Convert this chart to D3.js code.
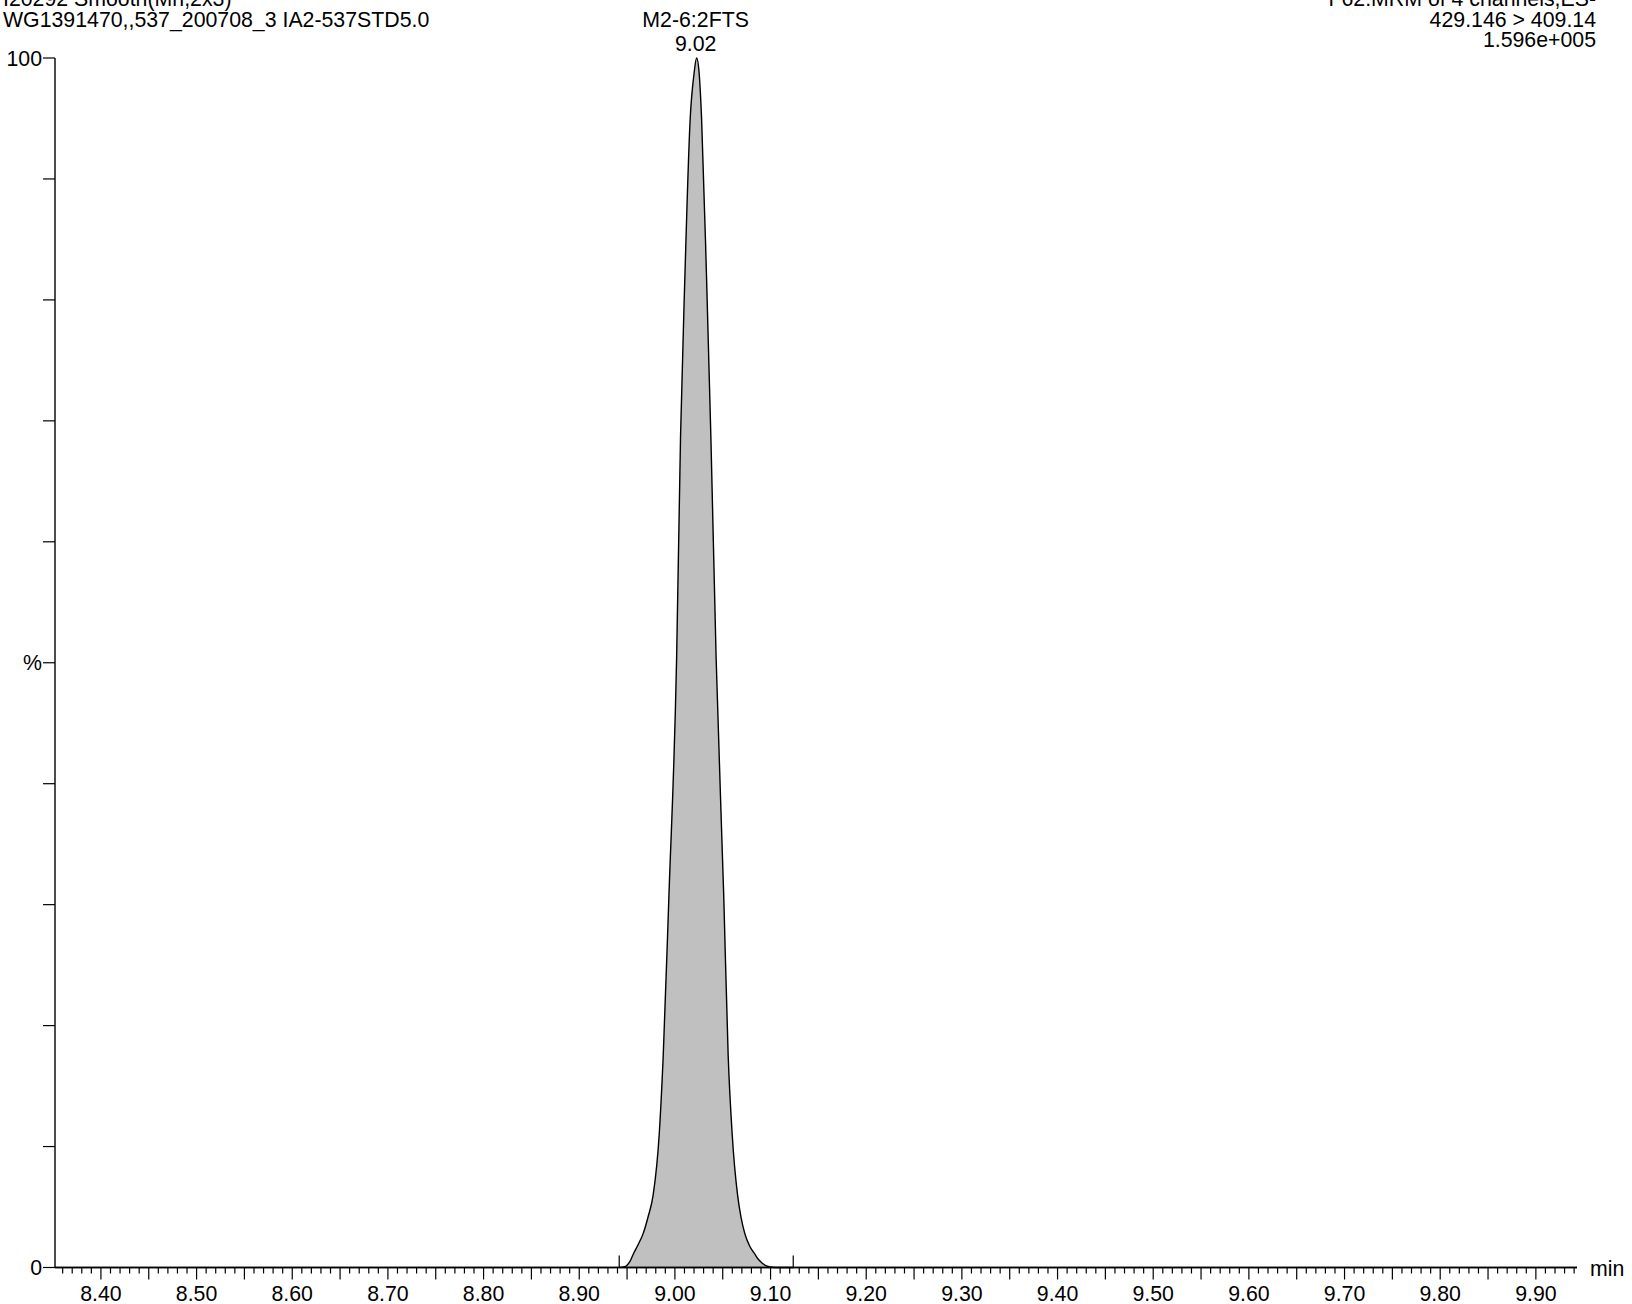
<!DOCTYPE html>
<html>
<head>
<meta charset="utf-8">
<script src="https://d3js.org/d3.v7.min.js"></script>
<style>
  html, body { margin: 0; padding: 0; background: #fff; }
  svg { display: block; font-family: "Liberation Sans", Arial, Helvetica, sans-serif; }
</style>
</head>
<body>
<svg id="chart" width="1632" height="1304"></svg>
<script>
// ---- data ----
const headerLeft = ["I20292 Smooth(Mn,2x3)", "WG1391470,,537_200708_3 IA2-537STD5.0"];
const headerRight = ["F62:MRM of 4 channels,ES-", "429.146 > 409.14", "1.596e+005"];
const peakName = "M2-6:2FTS";
const peakRT = "9.02";
const peakApex = 9.0227;
const integrationStart = 8.9418;
const integrationEnd = 9.1237;

const times = [8.352, 8.936, 8.9430, 8.9465, 8.9495, 8.9530, 8.9564, 8.9616, 8.9668, 8.9720,
  8.9773, 8.9836, 8.9878, 8.9937, 9.0018, 9.0059, 9.0104, 9.0160, 9.0200, 9.0227,
  9.0254, 9.0279, 9.0331, 9.0376, 9.0431, 9.0511, 9.0557, 9.0599, 9.0655, 9.0690,
  9.0731, 9.0780, 9.0836, 9.0870, 9.0905, 9.0940, 9.0975, 9.1020, 9.1080, 9.943];
const intensity = [0, 0, 0.01, 0.05, 0.15, 0.5, 1.1, 1.9, 2.8, 4.2,
  6.0, 11.0, 17.5, 30.6, 50.4, 68.7, 81.8, 95.0, 98.7, 100,
  98.7, 95.0, 81.8, 68.7, 50.4, 30.6, 17.5, 11.0, 6.0, 4.2,
  2.8, 1.8, 1.1, 0.7, 0.42, 0.2, 0.08, 0.02, 0, 0];

const xLabelTicks = [8.40, 8.50, 8.60, 8.70, 8.80, 8.90, 9.00, 9.10, 9.20, 9.30, 9.40, 9.50, 9.60, 9.70, 9.80, 9.90];
const yTickValues = [0, 10, 20, 30, 40, 50, 60, 70, 80, 90, 100];
const yTickLabels = {0: "0", 50: "%", 100: "100"};

// ---- layout ----
const svg = d3.select("#chart");
const x = d3.scaleLinear().domain([8.352, 9.943]).range([55, 1577]);
const y = d3.scaleLinear().domain([0, 100]).range([1267.5, 58]);
const FS = 21.3;

const pts = times.map((t, i) => [t, intensity[i]]);

// filled peak
svg.append("path")
  .datum(pts)
  .attr("fill", "#c0c0c0")
  .attr("stroke", "none")
  .attr("d", d3.area().x(d => x(d[0])).y0(y(0)).y1(d => y(d[1])).curve(d3.curveMonotoneX));
svg.append("path")
  .datum(pts)
  .attr("fill", "none")
  .attr("stroke", "#000")
  .attr("stroke-width", 1.4)
  .attr("d", d3.line().x(d => x(d[0])).y(d => y(d[1])).curve(d3.curveMonotoneX));

// x axis: minor ticks (0.01), major (0.05), labels (0.10)
const minor = d3.range(836, 995).map(v => v / 100);
const gx = svg.append("g").attr("transform", `translate(0,${y(0)})`);
gx.append("line").attr("x1", 55).attr("x2", 1577).attr("stroke", "#000").attr("stroke-width", 1.4);
gx.selectAll("line.tick").data(minor).join("line")
  .attr("class", "tick")
  .attr("x1", d => x(d)).attr("x2", d => x(d))
  .attr("y1", 0)
  .attr("y2", d => (Math.round(d * 100) % 5 === 0) ? 12 : 6)
  .attr("stroke", "#000").attr("stroke-width", 1.2);
gx.selectAll("text.lbl").data(xLabelTicks).join("text")
  .attr("class", "lbl")
  .attr("x", d => x(d)).attr("y", 33)
  .attr("text-anchor", "middle")
  .attr("font-size", FS)
  .text(d => d.toFixed(2));
svg.append("text").attr("x", 1590).attr("y", 1276).attr("font-size", FS).text("min");

// integration markers
[integrationStart, integrationEnd].forEach(t => {
  svg.append("line")
    .attr("x1", x(t)).attr("x2", x(t))
    .attr("y1", y(0) - 12).attr("y2", y(0))
    .attr("stroke", "#000").attr("stroke-width", 1.2);
});
svg.append("line")
  .attr("x1", x(integrationStart)).attr("x2", x(integrationEnd))
  .attr("y1", y(0)).attr("y2", y(0))
  .attr("stroke", "#000").attr("stroke-width", 1.6);

// y axis
const gy = svg.append("g");
gy.append("line").attr("x1", 55).attr("x2", 55).attr("y1", y(100)).attr("y2", y(0))
  .attr("stroke", "#000").attr("stroke-width", 1.4);
gy.selectAll("line.tick").data(yTickValues).join("line")
  .attr("class", "tick")
  .attr("x1", 43).attr("x2", 55)
  .attr("y1", d => y(d)).attr("y2", d => y(d))
  .attr("stroke", "#000").attr("stroke-width", 1.2);
gy.selectAll("text").data(yTickValues.filter(v => yTickLabels[v] !== undefined)).join("text")
  .attr("x", 42).attr("y", d => y(d) + 7.5)
  .attr("text-anchor", "end")
  .attr("font-size", FS)
  .text(d => yTickLabels[d]);

// headers
headerLeft.forEach((s, i) => {
  svg.append("text").attr("x", 3).attr("y", 6 + i * 20.5).attr("font-size", FS).text(s);
});
headerRight.forEach((s, i) => {
  svg.append("text").attr("x", 1596).attr("y", 6 + i * 20.5).attr("text-anchor", "end").attr("font-size", FS).text(s);
});

// peak annotation
svg.append("text").attr("x", x(peakApex) - 1).attr("y", 27).attr("text-anchor", "middle").attr("font-size", FS).text(peakName);
svg.append("text").attr("x", x(peakApex) - 1).attr("y", 51).attr("text-anchor", "middle").attr("font-size", FS).text(peakRT);
</script>
</body>
</html>
